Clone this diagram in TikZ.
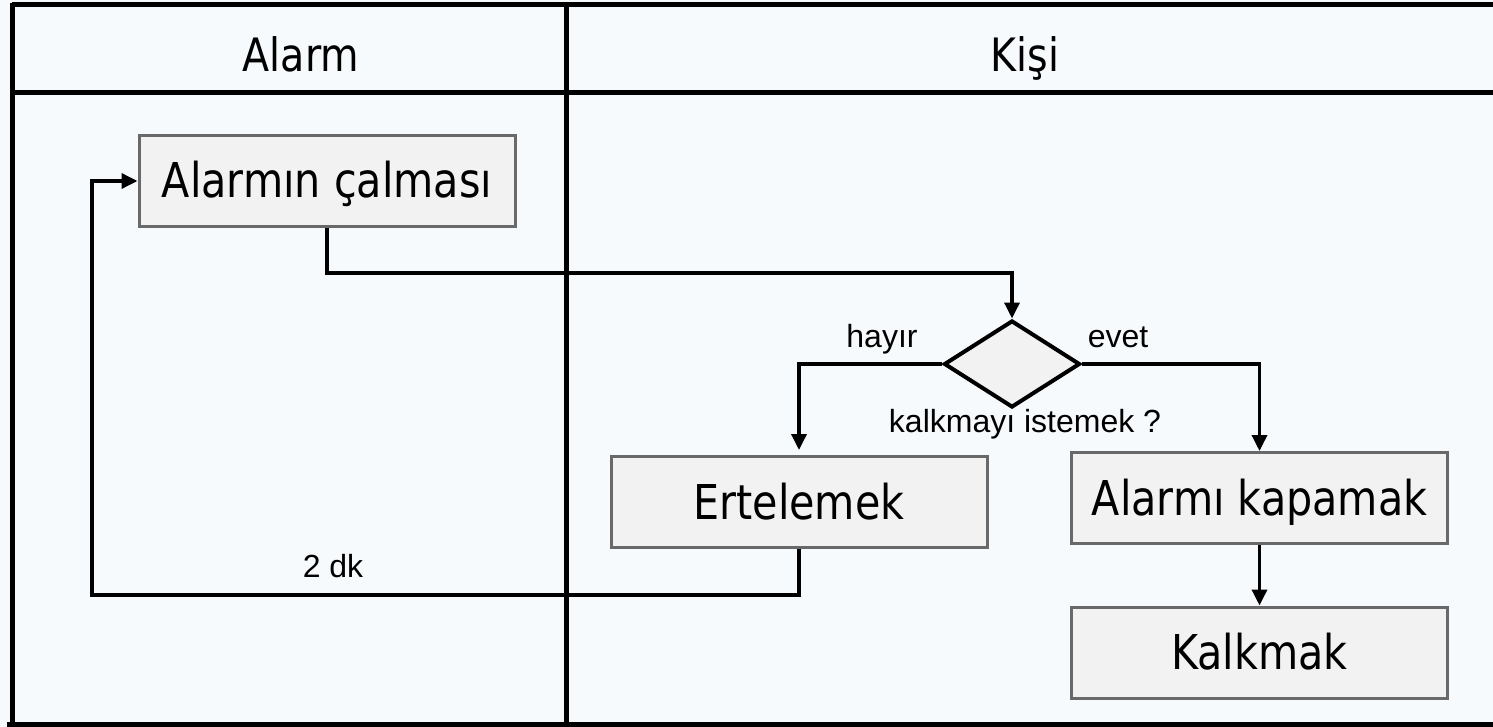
\documentclass[tikz,border=0pt]{standalone}
\usepackage{fontspec}
\newfontfamily\tahfont[FakeStretch=0.86]{DejaVu Sans}
\newfontfamily\arialfont{Liberation Sans}
\usetikzlibrary{shapes.geometric,arrows.meta}
\definecolor{bgcol}{RGB}{247,250,252}
\definecolor{boxfill}{RGB}{242,242,242}
\definecolor{boxline}{RGB}{105,105,105}
\begin{document}
\begin{tikzpicture}[x=1pt,y=-1pt,
  frame/.style={line width=5pt,black},
  box/.style={draw=boxline,fill=boxfill,line width=3pt,rectangle,
    minimum width=376pt,minimum height=91pt,inner sep=0pt,
    font=\tahfont\fontsize{48}{56}\selectfont,text height=34pt,text depth=0pt},
  head/.style={font=\tahfont\fontsize{46}{54}\selectfont,anchor=base,inner sep=0pt},
  lbl/.style={font=\arialfont\fontsize{32}{38}\selectfont,anchor=base,inner sep=0pt},
  dec/.style={draw=black,fill=boxfill,line width=4pt,diamond,inner sep=0pt,
    minimum width=136pt,minimum height=87pt},
  arr/.style={line width=3.5pt,black,-{Triangle[length=16pt,width=15pt]}},
  conn/.style={line width=3.5pt,black}]
\useasboundingbox (0,0) rectangle (1493,727);
\fill[bgcol] (0,0) rectangle (1493,727);
% frame
\draw[frame] (12,5) -- (1493,5);
\draw[frame] (12,3) -- (12,727);
\draw[frame] (7,724) -- (1493,724);
\draw[frame] (12,93) -- (1493,93);
\draw[frame] (566.5,3) -- (566.5,724);
% headers
\node[head] (h1) at (301,72) {Alarm};
\node[head] (h2) at (1025,72) {Kişi};
% nodes
\node[box] (alarm) at (327,181) {Alarmın çalması};
\node[dec] (q) at (1012,364) {};
\node[box] (ert) at (799,502) {Ertelemek};
\node[box] (kap) at (1259.5,498) {Alarmı kapamak};
\node[box] (kal) at (1259.5,652.5) {Kalkmak};
% labels
\node[lbl] (lh) at (882,347) {hayır};
\node[lbl] (le) at (1118,347) {evet};
\node[lbl] (lq) at (1025,432) {kalkmayı istemek ?};
\node[lbl] (ld) at (333,577) {2 dk};
% connectors
\coordinate (c1) at (327,273);
\draw[arr] (alarm.south) -- (c1) -| (q.north);
\draw[arr,shorten >=5pt] (q.west) -| (ert.north);
\draw[arr] (q.east) -| (kap.north);
\draw[arr] (kap.south) -- (kal.north);
\coordinate (c2) at (799,595);
\coordinate (c3) at (92,595);
\draw[arr] (ert.south) -- (c2) -- (c3) |- (alarm.west);
\end{tikzpicture}
\end{document}
